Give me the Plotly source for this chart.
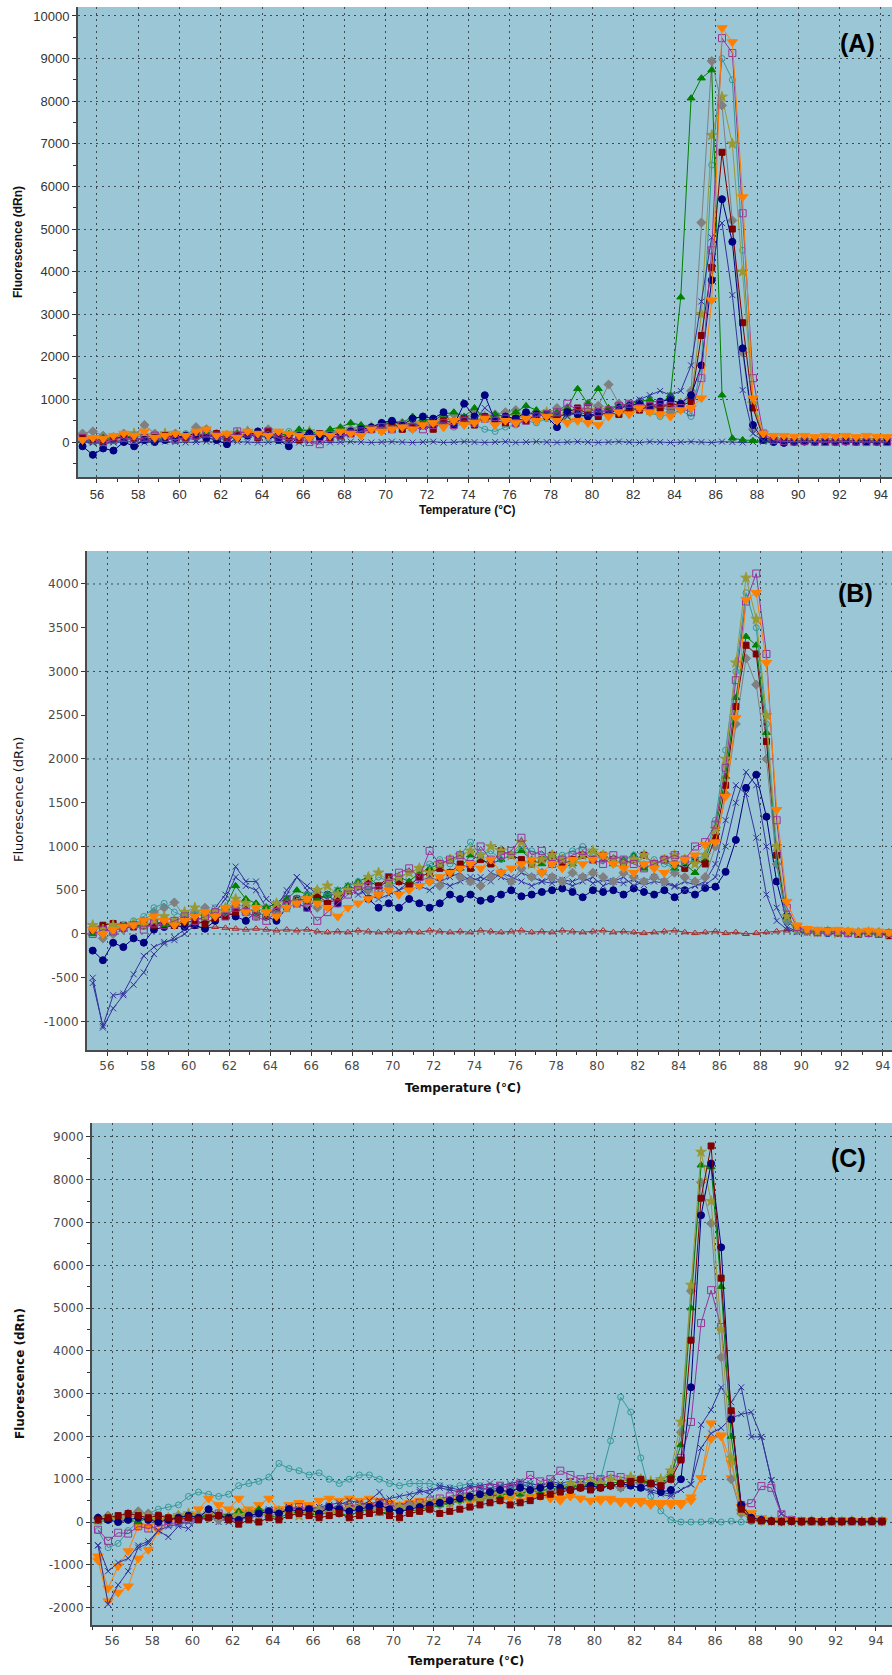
import plotly.graph_objects as go

# Temperature grid of the melt curve (°C)
TEMPS = [round(55.3 + 0.5 * k, 1) for k in range(79)]

# Axis tick values
X_TICKS = [56, 58, 60, 62, 64, 66, 68, 70, 72, 74, 76, 78, 80, 82, 84, 86, 88, 90, 92, 94]
A_YTICKS = [0, 1000, 2000, 3000, 4000, 5000, 6000, 7000, 8000, 9000, 10000]
B_YTICKS = [-1000, -500, 0, 500, 1000, 1500, 2000, 2500, 3000, 3500, 4000]
B_GRID = [-1000, 0, 1000, 2000, 3000, 4000]
C_YTICKS = [-2000, -1000, 0, 1000, 2000, 3000, 4000, 5000, 6000, 7000, 8000, 9000]

# ---------------- Panel A ----------------
A_NAVY = [-100, -300, -150, -200, 0, -100, 50, 0, 50, 100,
          150, 200, 100, 50, -50, 100, 150, 250, 150, 50,
          -100, 150, 200, 100, 150, 200, 250, 300, 350, 450,
          500, 400, 550, 600, 550, 700, 400, 900, 600, 1100,
          500, 600, 550, 700, 650, 600, 350, 700, 650, 600,
          700, 650, 800, 850, 900, 800, 950, 1000, 900, 1100,
          1800, 3800, 5700, 4700, 2200, 400, 50, 0, -20, 0,
          10, 0, 20, 0, 10, 0, 10, 0, 10]
A_RED = [100, 50, 0, 80, 120, 100, 50, 100, 150, 120,
         100, 150, 100, 200, 50, 150, 200, 100, 250, 150,
         100, 50, 150, 200, 100, 150, 200, 250, 300, 400,
         450, 300, 350, 400, 300, 500, 450, 550, 400, 600,
         500, 450, 550, 500, 600, 650, 550, 700, 800, 650,
         600, 700, 650, 800, 750, 850, 800, 900, 850, 950,
         2500, 4100, 6800, 5000, 2800, 800, 100, 50, 30, 20,
         20, 30, 20, 30, 20, 30, 20, 20, 30]
A_GREEN = [50, 0, 100, 50, 150, 100, 50, 100, 50, 150,
           100, 150, 200, 150, 100, 200, 150, 250, 200, 150,
           200, 300, 250, 200, 300, 350, 450, 400, 350, 450,
           500, 450, 600, 550, 500, 650, 700, 600, 800, 550,
           650, 600, 700, 850, 750, 650, 700, 800, 1250, 900,
           1250, 800, 850, 900, 950, 1000, 900, 1100, 3400, 8070,
           8540, 8730, 1100, 90, 50, 30, 20, 20, 10, 20,
           10, 20, 10, 20, 10, 20, 10, 20, 10]
A_GRAY = [200, 250, 150, 100, 200, 150, 400, 200, 150, 200,
          150, 350, 300, 200, 150, 200, 250, 150, 300, 200,
          150, 200, 100, 150, 200, 250, 300, 350, 300, 400,
          350, 450, 400, 500, 450, 600, 650, 550, 700, 600,
          650, 700, 750, 600, 700, 650, 800, 750, 700, 900,
          850, 1350, 900, 700, 950, 800, 850, 700, 900, 1200,
          5150, 8940, 7900, 5200, 2100, 300, 80, 50, 40, 30,
          40, 30, 40, 30, 40, 30, 40, 30, 40]
A_ORANGE = [50, 100, 80, 150, 200, 150, 250, 100, 150, 200,
            150, 250, 300, 150, 200, 100, 250, 200, 150, 250,
            200, 150, 100, 200, 150, 250, 200, 150, 300, 250,
            300, 350, 300, 400, 450, 350, 500, 400, 450, 550,
            400, 500, 450, 550, 500, 600, 500, 450, 500, 450,
            400, 600, 700, 650, 800, 700, 650, 600, 750, 800,
            1030, 3330, 9720, 9390, 5750, 1030, 200, 150, 150, 130,
            150, 120, 150, 130, 150, 120, 150, 130, 120]
A_PURPLE = [100, 50, 0, 50, 100, 50, 100, 150, 100, 50,
            100, 150, 200, 150, 100, 250, 200, 150, 250, 100,
            50, 100, 0, -50, 100, 150, 200, 250, 300, 350,
            300, 400, 350, 300, 400, 450, 400, 500, 450, 550,
            500, 550, 450, 500, 600, 650, 700, 900, 750, 800,
            700, 750, 850, 900, 800, 850, 900, 850, 800, 700,
            1500, 4500, 9480, 9130, 5370, 1500, 200, 50, 20, 10,
            20, 10, 0, 10, 20, 10, 0, 10, 0]
A_TEAL = [0, 50, 100, 50, 0, 100, 150, 100, 50, 150,
          200, 150, 250, 200, 150, 100, 200, 150, 100, 200,
          250, 200, 150, 200, 250, 300, 250, 200, 300, 350,
          400, 350, 300, 450, 400, 500, 350, 450, 400, 300,
          250, 350, 400, 500, 450, 550, 600, 500, 550, 650,
          600, 700, 650, 750, 800, 700, 600, 650, 750, 600,
          1800, 6500, 9000, 8500, 4500, 900, 100, 50, 30, 40,
          30, 40, 30, 40, 30, 40, 30, 40, 30]
A_OLIVE = [150, 100, 50, 100, 150, 200, 150, 100, 200, 150,
           100, 200, 150, 100, 150, 200, 250, 200, 150, 100,
           150, 200, 250, 150, 200, 250, 300, 250, 350, 300,
           400, 350, 450, 400, 350, 500, 450, 550, 500, 600,
           550, 500, 600, 550, 650, 700, 600, 650, 700, 750,
           800, 750, 700, 800, 850, 750, 800, 850, 900, 1000,
           3000, 7200, 8100, 7000, 4000, 900, 150, 60, 50, 40,
           50, 40, 50, 40, 50, 40, 50, 40, 50]
A_BLUEX = [50, 0, -50, 0, 50, 100, 50, 0, 100, 50,
           100, 50, 150, 100, 50, 150, 200, 100, 150, 100,
           50, 100, 150, 200, 150, 100, 200, 250, 300, 350,
           300, 400, 450, 350, 500, 450, 400, 600, 500, 800,
           600, 500, 450, 550, 600, 700, 650, 600, 700, 650,
           750, 700, 800, 900, 1000, 1100, 1200, 1100, 1200, 1800,
           3300, 4800, 5140, 3450, 1220, 200, 30, 0, 10, 0,
           10, 0, 10, 0, 10, 0, 10, 0, 10]
A_NTC = [0, -20, 10, -10, 0, 10, -10, 0, 10, 0,
         -10, 0, 10, 0, -10, 10, 0, -10, 0, 10,
         0, -10, 10, 0, -10, 0, 10, 0, -10, 0,
         10, 0, -10, 0, 10, -10, 0, 10, 0, -10,
         0, 10, -10, 0, 10, 0, -10, 0, 10, 0,
         -10, 0, 10, 0, -10, 10, 0, -10, 0, 10,
         0, -10, 10, 0, -10, 0, 10, 0, -10, 0,
         10, 0, -10, 0, 10, -10, 0, 10, 0]

# ---------------- Panel B ----------------
B_NAVY = [-190, -300, -100, -150, -50, -100, 50, 80, 100, 80,
          100, 60, 150, 250, 200, 150, 250, 200, 150, 300,
          350, 300, 400, 450, 350, 500, 550, 400, 300, 350,
          300, 400, 350, 300, 350, 450, 400, 450, 380, 400,
          450, 500, 430, 450, 480, 500, 520, 480, 420, 500,
          480, 500, 450, 520, 480, 450, 500, 420, 500, 450,
          525, 540, 710, 1075, 1670, 1820, 1340, 600, 150, 50,
          30, 20, 10, 20, 10, 0, 10, 0, 10]
B_BLUEX1 = [-560, -1050, -700, -680, -460, -250, -150, -90, -70, 0,
            100, 150, 300, 450, 770, 600, 600, 400, 300, 500,
            650, 550, 450, 400, 500, 550, 450, 500, 550, 600,
            500, 550, 600, 650, 600, 550, 600, 650, 600, 700,
            650, 600, 700, 650, 600, 580, 620, 600, 650, 580,
            620, 600, 580, 620, 560, 600, 580, 540, 600, 560,
            560, 650, 1000, 1500, 1850, 1700, 1000, 300, 80, 30,
            20, 10, 20, 10, 0, 10, 0, 10, 0]
B_BLUEX2 = [-500, -1070, -850, -700, -580, -440, -230, -110, -40, 50,
            150, 200, 250, 400, 650, 550, 500, 300, 350, 450,
            650, 500, 400, 350, 450, 500, 550, 450, 400, 450,
            500, 600, 550, 500, 600, 650, 700, 600, 650, 600,
            700, 650, 600, 550, 600, 650, 600, 550, 600, 650,
            550, 600, 650, 550, 600, 650, 600, 550, 500, 550,
            600, 800, 1300, 1700, 1600, 1100, 450, 150, 50, 20,
            10, 20, 10, 0, 10, 0, 10, 0, 10]
B_RED = [50, 100, 120, 100, 80, 120, 100, 150, 100, 130,
         150, 120, 180, 200, 250, 300, 250, 200, 300, 350,
         400, 380, 450, 350, 400, 500, 550, 600, 550, 650,
         600, 550, 650, 700, 750, 700, 800, 750, 850, 800,
         950, 900, 850, 800, 850, 900, 800, 850, 900, 850,
         900, 850, 800, 850, 900, 800, 850, 800, 750, 850,
         800, 1100, 1700, 2600, 3300, 3200, 2200, 900, 200, 60,
         40, 20, 30, 10, 20, 0, 10, 0, -20]
B_GREEN = [0, 50, 80, 50, 100, 80, 150, 100, 120, 150,
           200, 150, 250, 300, 550, 400, 350, 300, 350, 400,
           500, 450, 400, 450, 500, 550, 600, 650, 550, 600,
           650, 600, 700, 750, 800, 850, 750, 900, 850, 800,
           850, 900, 950, 850, 800, 900, 850, 800, 900, 950,
           850, 800, 850, 900, 750, 800, 850, 750, 800, 700,
           850, 1200, 1800, 2700, 3400, 3300, 2300, 900, 200, 50,
           30, 20, 30, 20, 10, 20, 10, 0, 10]
B_GRAY = [50, -50, 0, 50, 100, 150, 250, 300, 360, 200,
          250, 300, 200, 250, 300, 250, 200, 300, 250, 350,
          400, 350, 300, 350, 450, 500, 550, 500, 450, 550,
          600, 550, 650, 600, 550, 700, 650, 600, 550, 650,
          700, 600, 750, 650, 700, 650, 600, 700, 650, 700,
          650, 600, 700, 650, 600, 650, 600, 700, 650, 600,
          650, 1000, 1600, 2400, 3150, 2850, 2000, 800, 150, 40,
          30, 20, 30, 20, 10, 20, 10, 20, 10]
B_ORANGE = [50, 0, 50, 80, 100, 150, 200, 150, 100, 150,
            200, 250, 200, 300, 350, 250, 300, 250, 200, 300,
            350, 400, 350, 300, 200, 300, 350, 400, 450, 500,
            450, 500, 550, 600, 650, 700, 750, 800, 750, 850,
            700, 750, 800, 850, 700, 800, 750, 850, 800, 850,
            900, 800, 750, 700, 800, 750, 700, 800, 850, 900,
            1020, 1050, 1570, 2470, 3820, 3900, 3100, 1420, 370, 100,
            60, 50, 40, 50, 40, 30, 40, 30, 20]
B_PURPLE = [0, 50, 30, 80, 100, 50, 120, 100, 150, 200,
            150, 200, 250, 200, 300, 250, 200, 150, 250, 400,
            350, 300, 150, 250, 350, 450, 500, 550, 500, 650,
            700, 750, 650, 950, 800, 850, 900, 800, 1000, 850,
            900, 950, 1100, 900, 950, 800, 850, 900, 950, 850,
            800, 900, 850, 800, 750, 800, 850, 900, 850, 1000,
            1050, 1250, 1900, 2900, 3800, 4120, 3200, 1300, 300, 80,
            40, 20, 30, 20, 10, 0, 10, 0, 10]
B_TEAL = [50, 0, 80, 100, 150, 200, 300, 350, 250, 200,
          250, 200, 300, 250, 350, 300, 250, 200, 300, 350,
          400, 450, 500, 450, 500, 550, 600, 550, 650, 600,
          650, 700, 750, 800, 850, 800, 900, 1050, 900, 950,
          850, 900, 1000, 950, 900, 850, 900, 950, 1000, 900,
          850, 800, 850, 900, 800, 850, 800, 750, 800, 850,
          900, 1300, 2100, 3000, 3900, 3500, 2400, 800, 150, 50,
          30, 20, 10, 20, 10, 20, 10, 0, 10]
B_OLIVE = [100, 50, 100, 80, 120, 100, 150, 200, 150, 250,
           300, 200, 250, 300, 400, 350, 300, 250, 350, 300,
           350, 400, 500, 550, 450, 500, 550, 650, 700, 600,
           650, 700, 750, 700, 800, 850, 900, 950, 900, 1000,
           950, 900, 1050, 800, 850, 900, 850, 800, 900, 950,
           900, 850, 800, 850, 900, 800, 850, 900, 850, 800,
           900, 1200, 2000, 3100, 4070, 3600, 2500, 1000, 200, 60,
           30, 20, 30, 10, 20, 10, 20, 10, 0]
B_NTC = [80, 100, 120, 100, 110, 100, 90, 100, 80, 90,
         80, 70, 80, 70, 60, 50, 60, 50, 40, 50,
         40, 50, 30, 20, 30, 20, 40, 30, 20, 30,
         20, 30, 20, 40, 30, 20, 30, 20, 40, 30,
         20, 30, 40, 20, 30, 20, 40, 30, 20, 30,
         40, 20, 30, 20, 10, 20, 30, 40, 20, 10,
         20, 30, 10, 20, 0, 10, 20, 30, 40, 50,
         30, 20, 10, 20, 10, 0, 10, 0, -10]

# ---------------- Panel C ----------------
C_NAVY = [100, 50, 0, 50, 100, 50, 0, 50, 100, 150,
          100, 300, 150, 100, 50, 150, 200, 250, 200, 300,
          250, 300, 200, 350, 300, 250, 300, 350, 400, 300,
          250, 300, 350, 400, 450, 500, 550, 600, 650, 700,
          750, 700, 800, 750, 800, 850, 800, 750, 800, 850,
          800, 850, 900, 850, 800, 900, 700, 750, 1000, 3150,
          7170, 8380, 6420, 2400, 400, 100, 50, 20, 10, 20,
          10, 20, 10, 20, 10, 20, 10, 20, 10]
C_RED = [50, 100, 150, 200, 150, 100, 150, 100, 50, 100,
         50, 100, 150, 50, -50, 50, 0, 100, 50, 150,
         200, 150, 100, 150, 200, 100, 150, 200, 250, 150,
         100, 200, 250, 300, 200, 250, 300, 350, 400, 450,
         500, 400, 450, 500, 600, 650, 700, 750, 800, 750,
         800, 850, 900, 950, 1000, 900, 850, 1000, 1450, 4250,
         7570, 8790, 5700, 2600, 300, 50, 30, 20, 10, 20,
         10, 20, 10, 20, 10, 20, 10, 20, 10]
C_GREEN = [0, 50, 100, 50, 0, 100, 50, 100, 150, 100,
           150, 100, 200, 150, 250, 200, 300, 150, 100, 200,
           250, 200, 150, 250, 200, 150, 250, 300, 200, 250,
           300, 250, 300, 350, 400, 450, 500, 550, 600, 650,
           600, 700, 650, 750, 700, 800, 750, 850, 800, 900,
           850, 900, 950, 1000, 950, 900, 1000, 1100, 1800, 5000,
           8340, 8300, 5500, 2000, 300, 100, 50, 30, 20, 10,
           20, 10, 20, 10, 20, 10, 20, 10, 20]
C_GRAY = [100, 150, 100, 200, 250, 200, 150, 100, 150, 100,
          150, 100, 50, 100, 150, 100, 200, 150, 200, 250,
          200, 250, 300, 250, 200, 300, 250, 300, 350, 300,
          350, 400, 350, 300, 400, 450, 500, 550, 500, 600,
          650, 700, 650, 750, 800, 700, 750, 800, 850, 800,
          900, 850, 800, 900, 950, 850, 900, 1000, 2100, 5400,
          7940, 6980, 3850, 1000, 200, 50, 30, 20, 10, 20,
          10, 20, 10, 20, 10, 20, 10, 20, 10]
C_OLIVE = [50, 100, 50, 100, 150, 100, 50, 100, 150, 200,
           150, 200, 150, 100, 150, 200, 150, 200, 250, 200,
           150, 200, 250, 200, 250, 300, 350, 300, 250, 300,
           350, 300, 400, 450, 500, 450, 550, 600, 550, 650,
           700, 650, 750, 700, 800, 850, 800, 900, 850, 950,
           900, 1000, 950, 1050, 1000, 950, 1000, 1200, 2340, 5540,
           8650, 7500, 4500, 1500, 250, 80, 40, 20, 10, 20,
           10, 20, 10, 20, 10, 20, 10, 20, 10]
C_PURPLE = [-180, -440, -250, -270, -100, -150, -100, -50, 0, 50,
            100, 150, 200, 100, 50, 150, 200, 250, 200, 300,
            350, 300, 250, 350, 300, 350, 400, 350, 450, 400,
            350, 400, 450, 500, 550, 600, 650, 700, 750, 800,
            850, 800, 900, 1100, 950, 1000, 1200, 1100, 1000, 1050,
            1000, 1100, 1050, 1000, 950, 900, 850, 1100, 1500, 2340,
            4650, 5420, 4560, 2500, 400, 440, 840, 800, 180, 50,
            20, 10, 0, 10, 20, 10, 0, 10, 20]
C_TEAL = [-200, -600, -500, -200, 0, 200, 300, 350, 400, 600,
          700, 650, 600, 650, 850, 900, 950, 1050, 1370, 1250,
          1200, 1100, 1150, 1000, 900, 1000, 1100, 1100, 1000, 900,
          850, 900, 900, 900, 850, 800, 850, 900, 850, 800,
          850, 800, 850, 900, 850, 900, 850, 900, 950, 900,
          1000, 1900, 2920, 2570, 1500, 600, 260, 50, 0, 0,
          0, 20, 0, 20, 0, 10, 0, 10, 0, 10,
          0, 10, 0, 10, 0, 10, 0, 10, 0]
C_ORANGE1 = [-800, -1550, -1030, -680, -100, -100, 0, 100, 150, 100,
             300, 550, 400, 300, 550, 200, 400, 550, 300, 400,
             450, 400, 500, 550, 500, 550, 500, 550, 500, 450,
             400, 450, 500, 450, 400, 450, 500, 450, 500, 550,
             500, 550, 500, 550, 600, 550, 500, 600, 550, 500,
             500, 550, 500, 450, 500, 450, 400, 450, 400, 500,
             1030, 2310, 2030, 1380, 350, 210, 100, 50, 30, 20,
             30, 20, 30, 20, 30, 20, 30, 20, 30]
C_ORANGE2 = [-900, -1850, -1650, -1500, -850, -650, -200, 0, 50, 100,
             150, 200, 100, 150, 250, 300, 250, 200, 300, 250,
             300, 350, 300, 250, 300, 350, 300, 400, 350, 300,
             350, 400, 350, 400, 450, 500, 550, 500, 550, 600,
             550, 600, 650, 600, 650, 600, 550, 600, 550, 500,
             550, 500, 450, 500, 450, 400, 450, 400, 450, 580,
             1030, 1940, 2000, 1030, 350, 200, 100, 50, 20, 30,
             20, 30, 20, 30, 20, 30, 20, 30, 20]
C_BLUEX1 = [-540, -1920, -1470, -1150, -600, -500, -200, -350, -100, -150,
            100, 200, 0, 100, 150, 200, 250, 300, 200, 350,
            300, 250, 350, 400, 450, 400, 350, 500, 700, 400,
            350, 500, 750, 650, 850, 800, 750, 850, 800, 750,
            800, 850, 900, 800, 850, 900, 850, 800, 900, 850,
            800, 850, 900, 850, 800, 700, 650, 600, 750, 880,
            2270, 2620, 3150, 2800, 3150, 1990, 1990, 980, 190, 50,
            30, 20, 10, 20, 10, 20, 10, 20, 10]
C_BLUEX2 = [-550, -1150, -950, -850, -550, -450, -200, -100, -50, 0,
            50, 150, 100, 0, 50, 100, 150, 200, 250, 200,
            250, 300, 350, 300, 400, 500, 450, 400, 500, 550,
            600, 650, 700, 750, 800, 750, 700, 800, 850, 900,
            850, 900, 950, 900, 850, 950, 900, 950, 900, 850,
            900, 850, 800, 850, 800, 750, 700, 650, 750, 880,
            1730, 2070, 2200, 2430, 2520, 2570, 1990, 980, 190, 50,
            30, 20, 10, 20, 10, 0, 10, 0, 10]

# ---------------- styles ----------------
STYLE = {
    "navy":   ("#000080", "circle", 7),
    "red":    ("#800000", "square", 6),
    "green":  ("#008000", "triangle-up", 7),
    "gray":   ("#808080", "diamond", 7),
    "orange": ("#FF8000", "triangle-down", 9),
    "purple": ("#993399", "square-open", 7),
    "teal":   ("#339999", "circle-open", 6),
    "olive":  ("#999933", "star", 8),
    "bluex":  ("#333399", "x-thin-open", 6),
    "ntc":    ("#A52A2A", "triangle-up-open", 6),
}

PANELS = [
    ("x", "y", [("bluex", A_NTC), ("teal", A_TEAL), ("olive", A_OLIVE), ("gray", A_GRAY),
                ("green", A_GREEN), ("red", A_RED), ("navy", A_NAVY), ("bluex", A_BLUEX),
                ("purple", A_PURPLE), ("orange", A_ORANGE)]),
    ("x2", "y2", [("ntc", B_NTC), ("navy", B_NAVY), ("bluex", B_BLUEX1), ("bluex", B_BLUEX2),
                  ("gray", B_GRAY), ("green", B_GREEN), ("red", B_RED), ("teal", B_TEAL),
                  ("olive", B_OLIVE), ("purple", B_PURPLE), ("orange", B_ORANGE)]),
    ("x3", "y3", [("teal", C_TEAL), ("orange", C_ORANGE2), ("orange", C_ORANGE1),
                  ("bluex", C_BLUEX2), ("bluex", C_BLUEX1), ("purple", C_PURPLE),
                  ("gray", C_GRAY), ("green", C_GREEN), ("olive", C_OLIVE),
                  ("navy", C_NAVY), ("red", C_RED)]),
]

fig = go.Figure()
for xa, ya, series in PANELS:
    for key, vals in series:
        col, sym, sz = STYLE[key]
        fig.add_trace(go.Scatter(
            x=TEMPS[:len(vals)], y=vals, mode="lines+markers", xaxis=xa, yaxis=ya,
            line=dict(color=col, width=1),
            marker=dict(symbol=sym, size=sz, color=col, line=dict(color=col, width=1)),
            showlegend=False, hoverinfo="skip"))

W, H = 892, 1675
BG = "#9bc6d6"
GRIDC = "#3f4a50"
DASH = "2px,4px"


def xax(left, right_val, lo, anchor, font):
    return dict(domain=[left / W, 1.0], range=[lo, right_val], anchor=anchor,
                tickmode="array", tickvals=X_TICKS, ticktext=[str(v) for v in X_TICKS],
                ticks="outside", ticklen=4, tickcolor="#333",
                showline=True, linecolor="#4a4a4a", linewidth=2,
                showgrid=True, gridcolor=GRIDC, griddash=DASH, gridwidth=1,
                minor=dict(tickmode="linear", tick0=55, dtick=1, ticks="outside", ticklen=3,
                           tickcolor="#333", showgrid=False),
                zeroline=False, tickfont=font)


def yax(top, bottom, rng, ticks, anchor, font, grid=True, minor=None):
    d = dict(domain=[1 - bottom / H, 1 - top / H], range=rng, anchor=anchor,
             tickmode="array", tickvals=ticks, ticktext=[str(v) for v in ticks],
             ticks="outside", ticklen=4, tickcolor="#333",
             showline=True, linecolor="#4a4a4a", linewidth=2,
             showgrid=grid, gridcolor=GRIDC, griddash=DASH, gridwidth=1,
             zeroline=False, tickfont=font)
    if minor:
        d["minor"] = dict(tickmode="linear", tick0=0, dtick=minor, ticks="outside", ticklen=3,
                          tickcolor="#333", showgrid=False)
    return d


fontA = dict(family="Liberation Sans, Arial", size=13, color="#333333")
fontBC = dict(family="DejaVu Sans, Verdana", size=12, color="#4a4a4a")

fig.update_layout(
    width=W, height=H, margin=dict(l=0, r=0, t=0, b=0),
    paper_bgcolor="white", plot_bgcolor=BG, showlegend=False,
    xaxis=xax(78, 94.54, 55.08, "y", fontA),
    yaxis=yax(7, 477, [-820, 10210], A_YTICKS, "x", fontA, minor=500),
    xaxis2=xax(87, 94.45, 55.02, "y2", fontBC),
    yaxis2=yax(551, 1050, [-1326, 4377], B_YTICKS, "x2", fontBC, grid=False),
    xaxis3=xax(92, 94.8, 55.0, "y3", fontBC),
    yaxis3=yax(1123, 1625, [-2407, 9327], C_YTICKS, "x3", fontBC, minor=500),
)

# panel B: horizontal grid every 1000 (labels every 500)
for gv in B_GRID:
    fig.add_shape(type="line", xref="x2 domain", yref="y2", x0=0, x1=1, y0=gv, y1=gv,
                  line=dict(color=GRIDC, width=1, dash=DASH), layer="below")

ann_titleA = dict(family="Liberation Sans, Arial", size=12, color="#111")
ann_titleBC = dict(family="DejaVu Sans, Verdana", size=12, color="#111")
lbl = dict(family="Liberation Sans, Arial", size=25, color="#000")


def ann(text, x, y, font, angle=0, bold=True):
    t = f"<b>{text}</b>" if bold else text
    fig.add_annotation(text=t, x=x / W, y=1 - y / H, xref="paper", yref="paper",
                       showarrow=False, font=font, textangle=angle,
                       xanchor="center", yanchor="middle")


ann("Temperature (°C)", 468, 510, ann_titleA)
ann("Fluorescence (dRn)", 18, 242, ann_titleA, angle=-90)
ann("(A)", 857, 43, lbl)
ann("Temperature (°C)", 463, 1088, ann_titleBC)
ann("Fluorescence (dRn)", 18, 800, dict(family="DejaVu Sans, Verdana", size=13, color="#111"), angle=-90, bold=False)
ann("(B)", 855, 593, lbl)
ann("Temperature (°C)", 466, 1661, ann_titleBC)
ann("Fluorescence (dRn)", 20, 1374, ann_titleBC, angle=-90)
ann("(C)", 848, 1158, lbl)

fig.write_html("out.html")
